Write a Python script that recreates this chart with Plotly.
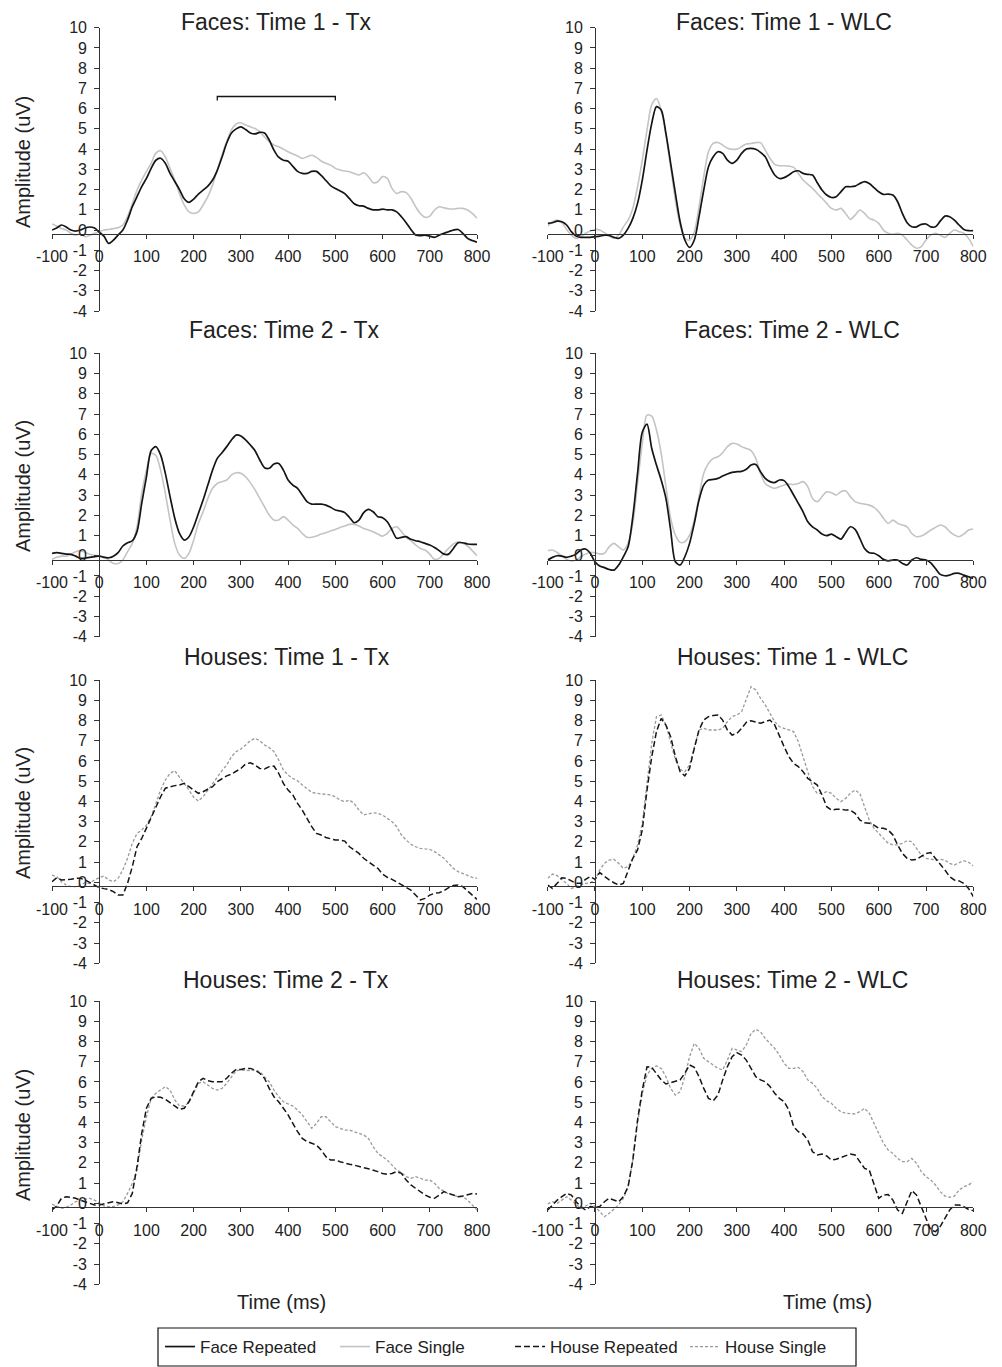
import plotly.graph_objects as go

# ---------------- DATA ----------------
time_ms = list(range(-100, 810, 10))  # -100 .. 800 ms, 91 samples

panel_titles = [
    "Faces: Time 1 - Tx", "Faces: Time 1 - WLC",
    "Faces: Time 2 - Tx", "Faces: Time 2 - WLC",
    "Houses: Time 1 - Tx", "Houses: Time 1 - WLC",
    "Houses: Time 2 - Tx", "Houses: Time 2 - WLC",
]
series_names = ["Face Repeated", "Face Single", "House Repeated", "House Single"]
x_ticks = [-100, 0, 100, 200, 300, 400, 500, 600, 700, 800]
x_tick_labels = ["-100", "0", "100", "200", "300", "400", "500", "600", "700", "800"]
y_ticks = [-4, -3, -2, -1, 0, 1, 2, 3, 4, 5, 6, 7, 8, 9, 10]
y_tick_labels = ["-4", "-3", "-2", "-1", "0", "1", "2", "3", "4", "5", "6", "7", "8", "9", "10"]

# window bracket (ms, uV) in Faces Time 1 - Tx
bracket_x = [250, 250, 500, 500]
bracket_y = [6.4, 6.6, 6.6, 6.4]

# Faces: Time 1 - Tx
f1tx_rep = [0.0, 0.1, 0.25, 0.15, 0.0, -0.05, 0.0, 0.1, 0.15, 0.1, -0.1,
            -0.3, -0.66, -0.5, -0.25, 0.0, 0.5, 1.15, 1.65, 2.15, 2.55,
            3.05, 3.45, 3.55, 3.3, 2.8, 2.4, 2.0, 1.55, 1.37, 1.53,
            1.78, 1.97, 2.17, 2.47, 2.95, 3.6, 4.3, 4.8, 5.0, 5.1,
            4.97, 4.8, 4.75, 4.83, 4.8, 4.45, 3.95, 3.6, 3.45, 3.4,
            3.15, 2.9, 2.8, 2.8, 2.9, 2.9, 2.7, 2.45, 2.2, 2.05,
            1.93, 1.8, 1.55, 1.3, 1.2, 1.18, 1.07, 1.0, 1.0, 1.03,
            1.0, 1.0, 0.9, 0.66, 0.36, 0.03, -0.25, -0.28, -0.25, -0.3,
            -0.36, -0.25, -0.16, -0.08, 0.0, 0.03, -0.16, -0.41, -0.52, -0.6]
f1tx_sgl = [0.3, 0.2, 0.08, 0.0, -0.16, -0.25, -0.2, -0.33, -0.26, -0.16, -0.08,
            0.0, 0.03, 0.07, 0.12, 0.25, 0.66, 1.3, 1.97, 2.47, 2.9,
            3.3, 3.8, 3.92, 3.62, 3.05, 2.47, 1.8, 1.24, 0.9, 0.82,
            0.9, 1.24, 1.65, 2.22, 2.97, 3.7, 4.37, 4.95, 5.24, 5.3,
            5.19, 5.1, 5.02, 4.86, 4.6, 4.37, 4.2, 4.12, 4.0, 3.87,
            3.76, 3.66, 3.54, 3.62, 3.7, 3.59, 3.41, 3.3, 3.21, 3.05,
            2.97, 2.92, 2.88, 2.8, 2.72, 2.83, 2.64, 2.34, 2.39, 2.64,
            2.55, 2.06, 1.81, 1.9, 1.85, 1.57, 1.15, 0.82, 0.63, 0.69,
            0.99, 1.15, 1.1, 1.05, 1.04, 1.07, 1.07, 0.99, 0.82, 0.58]

# Faces: Time 1 - WLC
f1wlc_rep = [0.33, 0.36, 0.44, 0.41, 0.25, -0.08, -0.3, -0.36, -0.36, -0.36, -0.33,
             -0.3, -0.25, -0.26, -0.36, -0.41, -0.25, 0.08, 0.58, 1.32, 2.47,
             3.95, 5.27, 6.1, 5.93, 4.78, 3.3, 1.81, 0.41, -0.49, -0.86,
             -0.49, 0.66, 1.98, 3.13, 3.62, 3.87, 3.79, 3.46, 3.3, 3.46,
             3.79, 4.0, 4.04, 3.99, 3.84, 3.62, 3.13, 2.72, 2.55, 2.59,
             2.72, 2.88, 2.93, 2.8, 2.75, 2.72, 2.34, 1.98, 1.73, 1.61,
             1.65, 1.89, 2.14, 2.14, 2.17, 2.3, 2.39, 2.3, 2.1, 1.89,
             1.76, 1.78, 1.73, 1.4, 0.82, 0.36, 0.16, 0.16, 0.28, 0.3,
             0.16, 0.16, 0.44, 0.69, 0.66, 0.49, 0.25, 0.03, -0.03, -0.03]
f1wlc_sgl = [0.2, 0.41, 0.49, 0.36, 0.03, -0.25, -0.41, -0.33, -0.16, -0.05, 0.03,
             0.0, -0.13, -0.3, -0.4, -0.25, 0.16, 0.49, 1.07, 2.14, 3.46,
             4.94, 6.2, 6.5, 5.93, 4.7, 3.13, 1.48, 0.25, -0.41, -0.49,
             -0.08, 1.15, 2.64, 3.87, 4.28, 4.33, 4.2, 4.04, 3.99, 4.0,
             4.12, 4.25, 4.28, 4.32, 4.32, 3.95, 3.54, 3.25, 3.18, 3.18,
             3.16, 3.1, 2.8, 2.47, 2.26, 2.06, 1.81, 1.57, 1.32, 1.07,
             0.99, 1.07, 0.82, 0.53, 0.74, 0.99, 0.82, 0.58, 0.49, 0.33,
             0.0, -0.16, -0.21, -0.16, -0.25, -0.49, -0.74, -0.9, -0.82, -0.49,
             -0.25, -0.16, -0.25, -0.36, -0.16, 0.0, -0.08, -0.16, -0.41, -0.82]

# Faces: Time 2 - Tx
f2tx_rep = [0.12, 0.15, 0.12, 0.08, 0.07, -0.02, -0.13, -0.12, -0.08, -0.05, -0.02,
            -0.08, -0.1, -0.02, 0.15, 0.48, 0.64, 0.74, 1.19, 2.59, 3.9,
            5.2, 5.39, 4.98, 4.07, 2.92, 1.85, 1.1, 0.77, 0.94, 1.43,
            2.09, 2.75, 3.49, 4.23, 4.81, 5.09, 5.39, 5.72, 5.96, 5.91,
            5.72, 5.47, 5.19, 4.73, 4.35, 4.32, 4.53, 4.56, 4.23, 3.74,
            3.49, 3.33, 3.0, 2.67, 2.55, 2.55, 2.55, 2.5, 2.39, 2.26,
            2.21, 2.13, 1.89, 1.63, 1.76, 2.13, 2.29, 2.17, 1.93, 1.88,
            1.68, 1.27, 0.86, 0.91, 0.94, 0.81, 0.74, 0.69, 0.61, 0.53,
            0.41, 0.25, 0.08, 0.08, 0.36, 0.64, 0.64, 0.58, 0.56, 0.56]
f2tx_sgl = [-0.18, -0.08, -0.02, -0.02, 0.08, 0.2, 0.25, 0.16, 0.07, 0.02, -0.02,
            -0.05, -0.21, -0.38, -0.38, -0.21, 0.2, 0.61, 1.43, 3.08, 4.23,
            5.06, 4.95, 4.23, 3.08, 1.76, 0.61, 0.03, -0.13, 0.12, 0.77,
            1.6, 2.17, 2.83, 3.33, 3.57, 3.66, 3.74, 3.99, 4.1, 4.07,
            3.9, 3.61, 3.25, 2.83, 2.42, 2.01, 1.76, 1.76, 1.93, 1.76,
            1.52, 1.35, 1.1, 0.91, 0.91, 0.97, 1.07, 1.14, 1.22, 1.3,
            1.4, 1.47, 1.55, 1.55, 1.47, 1.35, 1.27, 1.19, 1.07, 0.97,
            1.1, 1.35, 1.43, 1.19, 0.91, 0.74, 0.53, 0.36, 0.28, 0.08,
            -0.18, -0.13, 0.12, 0.36, 0.58, 0.69, 0.61, 0.48, 0.25, 0.0]

# Faces: Time 2 - WLC
f2wlc_rep = [-0.21, -0.08, 0.0, -0.02, -0.08, -0.02, 0.08, 0.28, 0.33, 0.12, -0.3,
             -0.51, -0.59, -0.68, -0.71, -0.46, -0.05, 0.44, 1.93, 4.07, 6.1,
             6.5, 5.3, 4.48, 3.74, 2.83, 1.27, -0.3, -0.46, -0.05, 0.61,
             1.6, 2.75, 3.49, 3.74, 3.77, 3.82, 3.94, 4.04, 4.12, 4.15,
             4.17, 4.27, 4.48, 4.51, 4.15, 3.82, 3.66, 3.61, 3.74, 3.71,
             3.41, 3.0, 2.59, 2.17, 1.68, 1.43, 1.27, 1.07, 0.99, 1.07,
             0.94, 0.82, 1.14, 1.43, 1.3, 0.86, 0.36, 0.15, 0.12, 0.0,
             -0.18, -0.25, -0.21, -0.21, -0.38, -0.46, -0.21, -0.1, -0.18, -0.21,
             -0.35, -0.63, -0.92, -0.99, -0.96, -0.87, -0.87, -0.96, -1.04, -1.12]
f2wlc_sgl = [0.25, 0.28, 0.16, -0.02, -0.18, -0.26, -0.21, -0.05, 0.08, 0.16, 0.15,
             0.08, 0.12, 0.44, 0.61, 0.44, 0.28, 0.61, 1.6, 3.57, 5.55,
             6.95, 6.9, 6.21, 5.06, 3.41, 1.85, 1.02, 0.66, 0.69, 1.02,
             1.76, 2.92, 4.07, 4.56, 4.81, 4.89, 5.09, 5.39, 5.55, 5.52,
             5.39, 5.3, 5.19, 4.81, 4.07, 3.57, 3.41, 3.33, 3.41, 3.49,
             3.54, 3.52, 3.57, 3.66, 3.41, 2.83, 2.67, 2.92, 3.16, 3.11,
             3.0, 3.16, 3.21, 2.92, 2.67, 2.59, 2.55, 2.5, 2.39, 2.17,
             1.85, 1.6, 1.76, 1.6, 1.52, 1.43, 1.1, 0.94, 0.97, 1.1,
             1.27, 1.4, 1.52, 1.43, 1.19, 1.02, 0.94, 1.07, 1.27, 1.32]

# Houses: Time 1 - Tx
h1tx_rep = [0.03, 0.23, 0.12, 0.12, 0.15, 0.2, 0.2, 0.12, -0.02, -0.16, -0.26,
            -0.31, -0.35, -0.46, -0.63, -0.63, -0.05, 0.77, 1.76, 2.17, 2.67,
            3.16, 3.74, 4.23, 4.65, 4.73, 4.78, 4.81, 4.89, 4.73, 4.56,
            4.4, 4.48, 4.6, 4.73, 4.98, 5.14, 5.26, 5.35, 5.47, 5.63,
            5.85, 5.91, 5.8, 5.63, 5.6, 5.72, 5.75, 5.39, 4.89, 4.56,
            4.32, 3.9, 3.57, 3.16, 2.75, 2.42, 2.34, 2.22, 2.14, 2.09,
            2.09, 2.04, 1.76, 1.6, 1.43, 1.19, 1.02, 0.89, 0.69, 0.41,
            0.25, 0.15, 0.03, -0.13, -0.25, -0.38, -0.63, -0.87, -0.79, -0.63,
            -0.54, -0.51, -0.41, -0.26, -0.16, -0.13, -0.21, -0.41, -0.63, -0.84]
h1tx_sgl = [0.36, 0.28, 0.03, -0.13, -0.21, -0.21, -0.13, -0.02, -0.05, 0.12, 0.23,
            0.31, 0.12, 0.03, 0.2, 0.61, 1.19, 1.93, 2.42, 2.59, 2.83,
            3.25, 3.9, 4.56, 5.06, 5.39, 5.52, 5.22, 4.89, 4.56, 4.2,
            4.02, 4.23, 4.56, 4.89, 5.22, 5.52, 5.8, 6.21, 6.46, 6.59,
            6.79, 7.0, 7.12, 7.0, 6.79, 6.66, 6.46, 6.05, 5.55, 5.3,
            5.14, 5.02, 4.81, 4.65, 4.45, 4.4, 4.37, 4.37, 4.32, 4.23,
            4.07, 3.99, 4.07, 3.9, 3.57, 3.33, 3.38, 3.44, 3.41, 3.33,
            3.16, 3.0, 2.75, 2.34, 2.09, 1.88, 1.76, 1.68, 1.65, 1.63,
            1.52, 1.35, 1.19, 0.94, 0.69, 0.53, 0.44, 0.33, 0.25, 0.2]

# Houses: Time 1 - WLC
h1wlc_rep = [-0.13, -0.3, -0.05, 0.23, 0.2, 0.08, -0.05, -0.05, 0.15, 0.28, 0.15,
             0.48, 0.28, 0.12, -0.02, -0.13, -0.05, 0.53, 1.19, 1.6, 2.59,
             4.56, 6.21, 7.45, 8.1, 7.77, 7.2, 6.21, 5.47, 5.26, 5.63,
             6.62, 7.53, 8.02, 8.19, 8.24, 8.27, 8.02, 7.53, 7.28, 7.36,
             7.61, 7.91, 7.99, 7.94, 7.86, 7.94, 8.02, 7.78, 7.2, 6.7,
             6.21, 5.88, 5.72, 5.47, 5.14, 4.98, 4.81, 4.32, 3.74, 3.57,
             3.61, 3.61, 3.57, 3.57, 3.41, 3.08, 2.95, 2.92, 2.83, 2.67,
             2.67, 2.59, 2.34, 1.85, 1.43, 1.19, 1.1, 1.14, 1.27, 1.43,
             1.47, 1.19, 0.94, 0.61, 0.28, 0.12, 0.07, -0.05, -0.3, -0.71]
h1wlc_sgl = [0.2, 0.41, 0.33, 0.15, -0.05, -0.3, -0.21, -0.13, -0.05, -0.02, 0.12,
             0.61, 0.94, 1.1, 1.14, 0.94, 0.69, 0.77, 1.19, 1.85, 2.92,
             4.89, 6.87, 8.19, 8.27, 7.78, 6.87, 6.05, 5.58, 5.47, 5.8,
             6.7, 7.53, 7.61, 7.53, 7.53, 7.53, 7.61, 7.94, 8.19, 8.27,
             8.43, 9.01, 9.67, 9.51, 9.1, 8.77, 8.35, 7.94, 7.69, 7.61,
             7.56, 7.45, 6.95, 6.21, 5.39, 4.73, 4.4, 4.4, 4.48, 4.4,
             4.15, 3.99, 4.15, 4.4, 4.56, 4.4, 3.74, 3.08, 2.67, 2.42,
             2.13, 1.93, 1.85, 1.85, 1.93, 2.06, 2.01, 1.68, 1.35, 1.19,
             1.14, 1.1, 1.14, 1.1, 0.94, 0.86, 0.97, 1.07, 0.99, 0.81]

# Houses: Time 2 - Tx
h2tx_rep = [-0.33, -0.13, 0.25, 0.33, 0.3, 0.25, 0.16, 0.08, -0.03, -0.08, -0.08,
            -0.03, 0.03, 0.08, 0.03, -0.03, 0.03, 0.49, 1.81, 3.46, 4.7,
            5.19, 5.27, 5.24, 5.14, 4.98, 4.78, 4.65, 4.7, 5.02, 5.52,
            6.01, 6.18, 6.06, 6.01, 6.01, 6.01, 6.18, 6.43, 6.62, 6.62,
            6.67, 6.67, 6.59, 6.43, 6.18, 5.68, 5.27, 5.02, 4.7, 4.37,
            3.95, 3.54, 3.21, 3.05, 2.97, 2.88, 2.64, 2.31, 2.14, 2.14,
            2.06, 1.98, 1.93, 1.89, 1.81, 1.76, 1.71, 1.65, 1.57, 1.48,
            1.43, 1.48, 1.57, 1.48, 1.15, 0.91, 0.74, 0.61, 0.41, 0.3,
            0.25, 0.41, 0.58, 0.49, 0.41, 0.33, 0.36, 0.44, 0.49, 0.46]
h2tx_sgl = [-0.05, -0.13, -0.25, -0.2, -0.08, 0.08, 0.16, 0.21, 0.25, 0.16, 0.0,
            -0.13, -0.16, -0.16, -0.08, 0.08, 0.49, 0.99, 1.65, 3.13, 4.28,
            5.19, 5.44, 5.6, 5.77, 5.6, 5.11, 4.81, 4.81, 4.98, 5.44,
            5.93, 6.01, 5.85, 5.68, 5.6, 5.68, 5.93, 6.26, 6.56, 6.59,
            6.56, 6.56, 6.59, 6.51, 6.26, 6.01, 5.6, 5.27, 5.02, 4.91,
            4.81, 4.61, 4.37, 4.04, 3.71, 3.95, 4.28, 4.28, 4.04, 3.79,
            3.71, 3.62, 3.62, 3.54, 3.43, 3.38, 3.21, 2.8, 2.47, 2.31,
            2.14, 1.89, 1.65, 1.52, 1.32, 1.24, 1.32, 1.24, 1.15, 1.15,
            0.99, 0.74, 0.58, 0.46, 0.41, 0.33, 0.33, 0.16, -0.08, -0.33]

# Houses: Time 2 - WLC
h2wlc_rep = [-0.33, -0.08, 0.16, 0.33, 0.49, 0.41, 0.08, -0.16, -0.33, -0.16, -0.2,
             -0.16, 0.08, 0.25, 0.16, 0.08, 0.33, 0.82, 2.14, 4.12, 5.6,
             6.75, 6.72, 6.43, 6.1, 5.9, 5.96, 6.01, 6.1, 6.43, 6.84,
             6.72, 6.26, 5.68, 5.19, 5.07, 5.35, 6.1, 6.75, 7.25, 7.45,
             7.33, 7.08, 6.67, 6.26, 6.1, 6.01, 5.77, 5.44, 5.19, 5.02,
             4.61, 3.79, 3.54, 3.43, 3.13, 2.55, 2.39, 2.44, 2.34, 2.14,
             2.18, 2.26, 2.34, 2.44, 2.39, 2.06, 1.73, 1.65, 0.99, 0.25,
             0.41, 0.44, 0.16, -0.33, -0.49, 0.08, 0.63, 0.41, -0.16, -0.74,
             -1.32, -1.4, -1.15, -0.74, -0.33, -0.08, -0.08, -0.16, -0.3, -0.36]
h2wlc_sgl = [-0.03, 0.08, 0.0, 0.16, 0.33, 0.16, -0.03, -0.25, -0.13, 0.0, -0.16,
             -0.41, -0.66, -0.49, -0.3, -0.08, 0.25, 0.82, 2.14, 3.95, 5.44,
             6.34, 6.67, 6.79, 6.67, 6.26, 5.68, 5.35, 5.52, 6.26, 7.25,
             7.91, 7.66, 7.17, 7.0, 6.84, 6.67, 6.59, 7.08, 7.66, 7.58,
             7.5, 7.83, 8.4, 8.6, 8.48, 8.15, 7.91, 7.66, 7.33, 6.92,
             6.67, 6.67, 6.72, 6.51, 6.1, 5.93, 5.68, 5.27, 5.07, 4.94,
             4.7, 4.53, 4.45, 4.45, 4.42, 4.53, 4.7, 4.45, 3.95, 3.46,
             2.97, 2.64, 2.47, 2.22, 2.06, 2.06, 2.22, 1.98, 1.57, 1.32,
             1.15, 0.91, 0.58, 0.36, 0.3, 0.36, 0.66, 0.82, 0.91, 1.07]

panel_series = [
    (f1tx_rep, f1tx_sgl), (f1wlc_rep, f1wlc_sgl),
    (f2tx_rep, f2tx_sgl), (f2wlc_rep, f2wlc_sgl),
    (h1tx_rep, h1tx_sgl), (h1wlc_rep, h1wlc_sgl),
    (h2tx_rep, h2tx_sgl), (h2wlc_rep, h2wlc_sgl),
]

# ---------------- LAYOUT ----------------
W, H = 1002, 1367
FONT = "Liberation Sans, Arial, sans-serif"
TXT = "#222222"
AX = "#333333"

col_px = [(52.0, 477.0), (547.7, 973.3)]          # x=-100 .. x=800
row_px = [(27.7, 311.0), (353.3, 636.7), (680.0, 963.3), (1001.0, 1284.3)]  # y=10 .. y=-4
X_CROSS = -0.2   # level where the horizontal axis is drawn

styles = {
    "Face Repeated": dict(color="#151515", width=1.7, dash="solid"),
    "Face Single": dict(color="#c4c4c4", width=1.6, dash="solid"),
    "House Repeated": dict(color="#151515", width=1.5, dash="6px,3px"),
    "House Single": dict(color="#9a9a9a", width=1.3, dash="3px,2px"),
}

fig = go.Figure()
layout = dict(
    template="none",
    width=W, height=H, margin=dict(l=0, r=0, t=0, b=0, autoexpand=False),
    paper_bgcolor="white", plot_bgcolor="rgba(0,0,0,0)",
    font=dict(family=FONT, size=16, color=TXT),
    showlegend=True,
)
annotations = []
shown = set()

for i in range(8):
    r, c = divmod(i, 2)
    xa = "xaxis" if i == 0 else f"xaxis{i+1}"
    ya = "yaxis" if i == 0 else f"yaxis{i+1}"
    xr = "x" if i == 0 else f"x{i+1}"
    yr = "y" if i == 0 else f"y{i+1}"
    x0, x1 = col_px[c][0] / W, col_px[c][1] / W
    yt, yb = row_px[r]
    y0, y1 = 1 - yb / H, 1 - yt / H
    layout[xa] = dict(
        domain=[x0, x1], range=[-100, 800], tickmode="array",
        tickvals=x_ticks, ticktext=x_tick_labels, automargin=False,
        showline=True, linecolor=AX, linewidth=1, ticks="outside", ticklen=4,
        tickcolor=AX, tickwidth=1, showgrid=False, zeroline=False,
        anchor="free", position=y0 + (X_CROSS + 4) / 14 * (y1 - y0),
        tickfont=dict(size=16, color=TXT, family=FONT), ticklabelstandoff=4,
    )
    layout[ya] = dict(
        domain=[y0, y1], range=[-4, 10], tickmode="array",
        tickvals=y_ticks, ticktext=y_tick_labels, automargin=False,
        showline=True, linecolor=AX, linewidth=1, ticks="outside", ticklen=5,
        tickcolor=AX, tickwidth=1, showgrid=False, zeroline=False,
        anchor="free", position=x0 + (1 / 9) * (x1 - x0),
        tickfont=dict(size=16, color=TXT, family=FONT), ticklabelstandoff=4,
    )
    rep, sgl = panel_series[i]
    kind = "Face" if i < 4 else "House"
    smooth = "spline" if kind == "Face" else "linear"
    # single first (drawn underneath), repeated on top
    for name, vals, rank in ((f"{kind} Single", sgl, 2), (f"{kind} Repeated", rep, 1)):
        rank = rank + (0 if kind == "Face" else 2)
        fig.add_trace(go.Scatter(
            x=time_ms, y=vals, mode="lines", name=name, legendgroup=name,
            legendrank=rank, showlegend=name not in shown,
            line=dict(shape=smooth, smoothing=0.8, **styles[name]),
            xaxis=xr, yaxis=yr, hoverinfo="skip",
        ))
        shown.add(name)

fig.add_trace(go.Scatter(
    x=bracket_x, y=bracket_y, mode="lines", showlegend=False,
    line=dict(color="#151515", width=1.3), xaxis="x", yaxis="y", hoverinfo="skip",
))

# panel titles
title_px = [(276, 21.5), (784, 21.5), (284, 330), (792, 330),
            (287, 657), (792, 657), (286, 980), (792, 980)]
for t, (px, py) in zip(panel_titles, title_px):
    annotations.append(dict(text=t, x=px / W, y=1 - py / H, xref="paper", yref="paper",
                            showarrow=False, xanchor="center", yanchor="middle",
                            font=dict(size=23, color=TXT, family=FONT)))
# y axis titles (left column)
for py in (162, 486, 813, 1135):
    annotations.append(dict(text="Amplitude (uV)", x=23 / W, y=1 - py / H, xref="paper",
                            yref="paper", showarrow=False, textangle=-90,
                            xanchor="center", yanchor="middle",
                            font=dict(size=20, color=TXT, family=FONT)))
# x axis titles (bottom row)
for px in (281, 827):
    annotations.append(dict(text="Time (ms)", x=px / W, y=1 - 1302 / H, xref="paper",
                            yref="paper", showarrow=False, xanchor="center",
                            yanchor="middle", font=dict(size=20, color=TXT, family=FONT)))

layout["annotations"] = annotations
layout["shapes"] = [dict(type="rect", xref="paper", yref="paper",
                         x0=158 / W, x1=856 / W, y0=1 - 1366 / H, y1=1 - 1328 / H,
                         line=dict(color="#111111", width=1.2), fillcolor="rgba(0,0,0,0)")]
layout["legend"] = dict(
    orientation="h", x=160 / W, y=1 - 1347 / H, xanchor="left", yanchor="middle",
    bgcolor="rgba(0,0,0,0)", borderwidth=0, font=dict(size=17, color=TXT, family=FONT),
    itemwidth=30, tracegroupgap=0, traceorder="normal",
    entrywidth=130, entrywidthmode="pixels",
)
fig.update_layout(**layout)
fig.write_html("out.html", config={"displayModeBar": False},
               post_script="document.body.style.margin='0px';document.body.style.padding='0px';")
